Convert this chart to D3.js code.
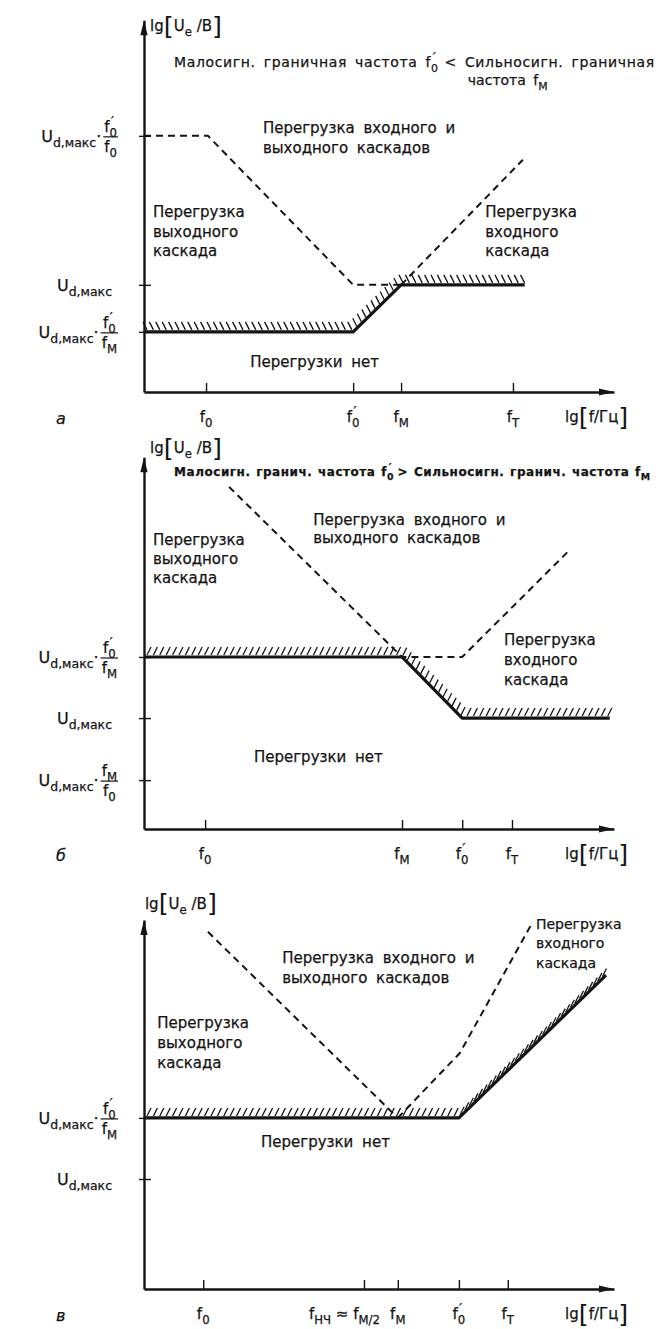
<!DOCTYPE html>
<html><head><meta charset="utf-8">
<script src="https://cdn.jsdelivr.net/npm/d3@7"></script>
<style>
body{margin:0;background:#fff}
svg{display:block}
text{font-family:"DejaVu Sans",sans-serif;fill:#141414;stroke:#141414;stroke-width:0.25px}
</style></head><body>
<svg id="c" width="664" height="1329"></svg>
<script>
// ---------- shared labels ----------
const yLabel = "lg[U_e /B]";
const xLabel = "lg[f/Гц]";
const txtBoth = ["Перегрузка входного и", "выходного каскадов"];
const txtOut = ["Перегрузка", "выходного", "каскада"];
const txtIn = ["Перегрузка", "входного", "каскада"];
const txtNone = "Перегрузки нет";
const titleA = ["Малосигн. граничная частота f_0' < Сильносигн. граничная", "частота f_М"];
const titleB = "Малосигн. гранич. частота f_0' > Сильносигн. гранич. частота f_М";

// ---------- panel а : f0' < fM  (values in lg units, one unit = one decade) ----------
const tickNamesA = ["f_0", "f_0'", "f_М", "f_Т"];
const tickLgA = [1.32, 4.45, 5.47, 7.85];
const levelLgA = [5.45, 2.28, 1.28];
const levelLabelsA = [["U_{d,макс}·", "f_0'", "f_0"], ["U_{d,макс}"], ["U_{d,макс}·", "f_0'", "f_М"]];
const dashA1 = [[0, 5.45], [1.36, 5.45], [4.45, 2.28], [5.47, 2.28]];
const dashA2 = [[5.47, 2.28], [8.06, 4.94]];
const solidA = [[0, 1.28], [4.45, 1.28], [5.47, 2.28], [8.10, 2.28]];

// ---------- panel б : f0' > fM ----------
const tickNamesB = ["f_0", "f_М", "f_0'", "f_Т"];
const tickLgB = [1.30, 5.49, 6.77, 7.83];
const levelLgB = [3.66, 2.36, 1.04];
const levelLabelsB = [["U_{d,макс}·", "f_0'", "f_М"], ["U_{d,макс}"], ["U_{d,макс}·", "f_М", "f_0"]];
const dashB1 = [[1.81, 7.28], [5.49, 3.66], [6.77, 3.66], [9.06, 5.94]];
const solidB = [[0, 3.66], [5.49, 3.66], [6.77, 2.36], [9.91, 2.36]];

// ---------- panel в : with low-frequency corner fНЧ ----------
const tickNamesC = ["f_0", "f_{НЧ} ≈ f_{М/2}", "f_М", "f_0'", "f_Т"];
const tickLgC = [1.26, 4.68, 5.40, 6.70, 7.74];
const levelLgC = [3.64, 2.34];
const levelLabelsC = [["U_{d,макс}·", "f_0'", "f_М"], ["U_{d,макс}"]];
const dashC1 = [[1.36, 7.60], [5.40, 3.64]];
const dashC2 = [[5.40, 3.64], [6.72, 5.02], [8.26, 7.79]];
const solidC = [[0, 3.64], [6.70, 3.64], [9.83, 6.68]];

// ---------- drawing ----------
const svg = d3.select("#c");
const U = 47;          // px per decade on both axes
const X0 = 144;        // position of the vertical axis
const INK = "#141414";

// tiny markup: _x / _{xx} subscript, ' prime over the subscript, [ ] tall brackets
function parse(s) {
  const parts = []; let buf = "";
  const flush = () => { if (buf) { parts.push({t: buf, k: "n"}); buf = ""; } };
  for (let i = 0; i < s.length; i++) {
    const c = s[i];
    if (c === "_") {
      flush();
      let sub;
      if (s[i + 1] === "{") { const j = s.indexOf("}", i); sub = s.slice(i + 2, j); i = j; }
      else { sub = s[i + 1]; i++; }
      parts.push({t: sub, k: "sub"});
    } else if (c === "'") { flush(); parts.push({t: "′", k: "prime"}); }
    else if (c === "[" || c === "]") { flush(); parts.push({t: c, k: "big"}); }
    else buf += c;
  }
  flush();
  return parts;
}

function rich(text, s, size) {
  let shift = 0, prev = null;
  parse(s).forEach(p => {
    const ts = text.append("tspan").text(p.t);
    let target = 0;
    if (p.k === "n") ts.style("font-size", size + "px");
    else if (p.k === "sub") { ts.style("font-size", (size * 0.78) + "px"); target = size * 0.32; }
    else if (p.k === "big") { ts.style("font-size", (size * 1.7) + "px").style("stroke-width", "0px"); target = size * 0.24; }
    else {
      ts.style("font-size", (size * 0.85) + "px");
      const w = prev ? prev.node().getComputedTextLength() : 0;
      ts.attr("dx", -w * 0.8);
      target = -size * 0.45;
    }
    ts.attr("dy", target - shift);
    shift = target;
    prev = ts;
  });
  return text;
}

function hatch(g, pts, lean) {
  const step = 6.4, len = 10;
  const marks = [];
  let carry = 3;
  for (let i = 0; i < pts.length - 1; i++) {
    const [x1, y1] = pts[i], [x2, y2] = pts[i + 1];
    const L = Math.hypot(x2 - x1, y2 - y1);
    let s = carry;
    while (s <= L) { const t = s / L; marks.push([x1 + (x2 - x1) * t, y1 + (y2 - y1) * t]); s += step; }
    carry = s - L;
  }
  g.append("g").selectAll("line").data(marks).join("line")
    .attr("x1", d => d[0]).attr("y1", d => d[1] - 2)
    .attr("x2", d => d[0] + lean).attr("y2", d => d[1] - len)
    .attr("stroke", INK).attr("stroke-width", 1.3);
}

function drawPanel(p) {
  const g = svg.append("g");
  const x = d3.scaleLinear().domain([0, 10]).range([X0, X0 + 10 * U]);
  const y = d3.scaleLinear().domain([0, p.yTop]).range([p.axisY, p.axisY - p.yTop * U]);
  const line = d3.line().x(d => x(d[0])).y(d => y(d[1]));

  // horizontal axis with upward ticks
  const ax = g.append("g").attr("transform", `translate(0,${p.axisY})`)
    .call(d3.axisBottom(x).tickValues(p.ticks).tickSize(-9).tickSizeOuter(0).tickFormat(""));
  ax.select(".domain").attr("stroke", INK).attr("stroke-width", 2.4);
  ax.selectAll(".tick line").attr("stroke", INK).attr("stroke-width", 1.4);

  // vertical axis with crossing ticks
  const ay = g.append("g").attr("transform", `translate(${X0},0)`)
    .call(d3.axisLeft(y).tickValues(p.levels).tickSize(0).tickSizeOuter(0).tickFormat(""));
  ay.select(".domain").attr("stroke", INK).attr("stroke-width", 2.4);
  ay.selectAll(".tick line").attr("x1", -5).attr("x2", 7).attr("stroke", INK).attr("stroke-width", 1.4);

  // arrow heads
  const tx = x(10), ty = y(p.yTop);
  g.append("path").attr("d", `M${tx},${p.axisY} L${tx - 15},${p.axisY - 3.6} L${tx - 15},${p.axisY + 3.6} Z`).attr("fill", INK);
  g.append("path").attr("d", `M${X0},${ty} L${X0 - 3.6},${ty + 15} L${X0 + 3.6},${ty + 15} Z`).attr("fill", INK);

  // hatched boundary and the solid limit line
  const solidPx = p.solid.map(d => [x(d[0]), y(d[1])]);
  hatch(g, solidPx, p.lean);
  g.append("path").attr("d", line(p.solid)).attr("fill", "none")
    .attr("stroke", INK).attr("stroke-width", 3.2).attr("stroke-linejoin", "round");

  // dashed limits
  p.dashed.forEach(ds => {
    g.append("path").attr("d", line(ds)).attr("fill", "none")
      .attr("stroke", INK).attr("stroke-width", 2).attr("stroke-dasharray", "7,5");
  });

  // frequency labels
  p.ticks.forEach((v, i) => {
    const t = g.append("text").attr("x", x(v)).attr("y", p.axisY + 30).attr("text-anchor", "middle");
    const name = p.tickNames[i];
    if (name.includes("≈")) t.attr("text-anchor", "end").attr("x", x(v) + 16);
    rich(t, name, 15);
  });

  // level labels
  p.levels.forEach((v, i) => {
    const lab = p.levelLabels[i];
    const yy = y(v), right = X0 - 26;
    if (lab.length === 1) {
      rich(g.append("text").attr("x", right - 6).attr("y", yy + 6).attr("text-anchor", "end"), lab[0], 16);
      return;
    }
    const num = rich(g.append("text").attr("y", yy - 4).attr("text-anchor", "middle"), lab[1], 15);
    const den = rich(g.append("text").attr("y", yy + 16).attr("text-anchor", "middle"), lab[2], 15);
    const w = Math.max(num.node().getBBox().width, den.node().getBBox().width) + 2;
    const xc = right - w / 2;
    num.attr("x", xc); den.attr("x", xc);
    g.append("line").attr("x1", xc - w / 2).attr("x2", xc + w / 2).attr("y1", yy + 1).attr("y2", yy + 1)
      .attr("stroke", INK).attr("stroke-width", 1.2);
    rich(g.append("text").attr("x", xc - w / 2 - 2).attr("y", yy + 6).attr("text-anchor", "end"), lab[0], 16);
  });

  // axis titles and panel letter
  rich(g.append("text").attr("x", x(p.yLabelAt[0])).attr("y", y(p.yLabelAt[1])), yLabel, 15);
  rich(g.append("text").attr("x", 565).attr("y", p.axisY + 30), xLabel, 15);
  g.append("text").attr("x", 56).attr("y", p.axisY + 32).attr("font-style", "italic")
    .style("font-size", "16px").text(p.letter);

  // region notes
  p.notes.forEach(n => {
    n.lines.forEach((s, k) => {
      const t = g.append("text").attr("x", x(n.at[0])).attr("y", y(n.at[1]) + k * (n.lh || 20))
        .style("word-spacing", (n.ws == null ? 4 : n.ws) + "px");
      if (n.bold) t.style("font-weight", "bold");
      rich(t, s, n.size || 15);
      if (n.width) t.attr("textLength", n.width).attr("lengthAdjust", "spacing");
    });
  });
}

drawPanel({
  axisY: 392, yTop: 7.91, letter: "а", lean: -4,
  ticks: tickLgA, tickNames: tickNamesA, levels: levelLgA, levelLabels: levelLabelsA,
  dashed: [dashA1, dashA2], solid: solidA, yLabelAt: [0.13, 7.68],
  notes: [
    {lines: [titleA[0]], at: [0.64, 6.91], size: 14, ws: 3, width: 480},
    {lines: [titleA[1]], at: [6.89, 6.53], size: 14, ws: 3},
    {lines: txtBoth, at: [2.53, 5.51]},
    {lines: txtOut, at: [0.19, 3.72], lh: 19.5},
    {lines: txtIn, at: [7.26, 3.72], lh: 19.5},
    {lines: [txtNone], at: [2.26, 0.53]}
  ]
});

drawPanel({
  axisY: 829, yTop: 7.91, letter: "б", lean: 4,
  ticks: tickLgB, tickNames: tickNamesB, levels: levelLgB, levelLabels: levelLabelsB,
  dashed: [dashB1], solid: solidB, yLabelAt: [0.13, 8.00],
  notes: [
    {lines: [titleB], at: [0.64, 7.51], size: 12, bold: true, ws: 1, width: 476},
    {lines: txtBoth, at: [3.60, 6.47], lh: 18.5},
    {lines: txtOut, at: [0.19, 6.04], lh: 19},
    {lines: txtIn, at: [7.66, 3.91], lh: 20},
    {lines: [txtNone], at: [2.34, 1.43]}
  ]
});

drawPanel({
  axisY: 1289, yTop: 7.85, letter: "в", lean: 4,
  ticks: tickLgC, tickNames: tickNamesC, levels: levelLgC, levelLabels: levelLabelsC,
  dashed: [dashC1, dashC2], solid: solidC, yLabelAt: [0.02, 8.09],
  notes: [
    {lines: txtBoth, at: [2.94, 6.94], lh: 20},
    {lines: txtOut, at: [0.28, 5.55], lh: 20},
    {lines: txtIn, at: [8.34, 7.66], lh: 19.5, size: 14, ws: 0},
    {lines: [txtNone], at: [2.49, 3.02]}
  ]
});
</script>
</body></html>
